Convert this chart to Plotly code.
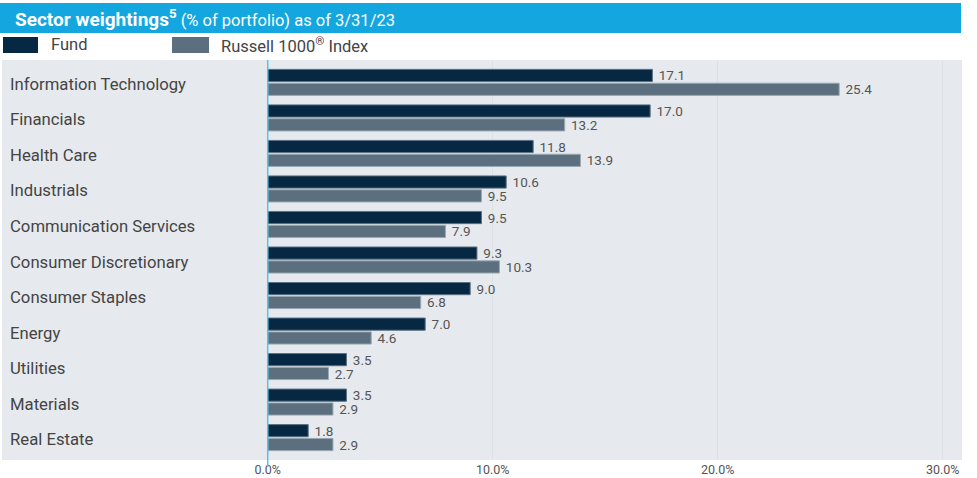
import plotly.graph_objects as go

categories = ["Information Technology", "Financials", "Health Care", "Industrials",
              "Communication Services", "Consumer Discretionary", "Consumer Staples",
              "Energy", "Utilities", "Materials", "Real Estate"]
fund = [17.1, 17.0, 11.8, 10.6, 9.5, 9.3, 9.0, 7.0, 3.5, 3.5, 1.8]
index = [25.4, 13.2, 13.9, 9.5, 7.9, 10.3, 6.8, 4.6, 2.7, 2.9, 2.9]
tick_vals = [0, 10, 20, 30]
tick_text = ["0.0%", "10.0%", "20.0%", "30.0%"]

W, H = 977, 478
L, R, T, B = 2, 15, 60, 18
PW, PH = W - L - R, H - T - B

def px(x):
    return (x - L) / PW

def py(y):
    return (H - B - y) / PH

FUND_C = "#062843"
IDX_C = "#5b6f7e"
TXT = "#555555"

fig = go.Figure()
fig.add_trace(go.Bar(
    y=categories, x=fund, orientation="h", name="Fund",
    marker=dict(color=FUND_C, line=dict(color="#5c7184", width=1)),
    texttemplate=" %{x:.1f}", textposition="outside", cliponaxis=False,
    constraintext="none",
    textfont=dict(size=13.5, color=TXT, family="Roboto"),
))
fig.add_trace(go.Bar(
    y=categories, x=index, orientation="h", name="Russell 1000® Index",
    marker=dict(color=IDX_C, line=dict(color="#9aa8b3", width=1)),
    texttemplate=" %{x:.1f}", textposition="outside", cliponaxis=False,
    constraintext="none",
    textfont=dict(size=13.5, color=TXT, family="Roboto"),
))

shapes = [
    dict(type="rect", xref="paper", yref="paper", x0=px(0), x1=px(961), y0=py(33), y1=py(3),
         fillcolor="#14a6df", line=dict(width=0), layer="above"),
    dict(type="rect", xref="paper", yref="paper", x0=px(3), x1=px(38), y0=py(53), y1=py(37),
         fillcolor=FUND_C, line=dict(width=0)),
    dict(type="rect", xref="paper", yref="paper", x0=px(172), x1=px(209), y0=py(53), y1=py(37),
         fillcolor=IDX_C, line=dict(width=0)),
    dict(type="line", xref="x", yref="paper", x0=0, x1=0, y0=py(467), y1=1,
         line=dict(color="#5cc0ea", width=1.5), layer="above"),
]

annotations = [
    dict(xref="paper", yref="paper", x=px(13), y=py(18), xanchor="left", yanchor="middle",
         text="<span style='font-size:19px'><b>Sector weightings<sup>5</sup></b></span> (% of portfolio) as of 3/31/23",
         showarrow=False, font=dict(size=16.5, color="white", family="Roboto")),
    dict(xref="paper", yref="paper", x=px(49), y=py(45), xanchor="left", yanchor="middle",
         text="Fund", showarrow=False, font=dict(size=16.5, color="#444444", family="Roboto")),
    dict(xref="paper", yref="paper", x=px(219), y=py(45), xanchor="left", yanchor="middle",
         text="Russell 1000<sup>®</sup> Index", showarrow=False,
         font=dict(size=16.5, color="#444444", family="Roboto")),
]
for c in categories:
    annotations.append(dict(xref="paper", yref="y", x=px(8), y=c, xanchor="left", yanchor="middle",
                            text=c, showarrow=False, yshift=-2,
                            font=dict(size=16.7, color="#444444", family="Roboto")))

fig.update_layout(
    width=W, height=H,
    margin=dict(l=L, r=R, t=T, b=B),
    paper_bgcolor="white", plot_bgcolor="#e6eaee",
    barmode="group", bargap=0.22, bargroupgap=0.12,
    showlegend=False,
    shapes=shapes, annotations=annotations,
    xaxis=dict(range=[-11.81, 30.86], tickvals=tick_vals, ticktext=tick_text,
               showgrid=True, gridcolor="#dce1e6", gridwidth=1, zeroline=False,
               tickfont=dict(size=12.5, color=TXT, family="Roboto"), ticks="", ticklen=0,
               fixedrange=True),
    yaxis=dict(categoryorder="array", categoryarray=categories,
               range=[len(categories) - 1 + 0.63, -0.63],
               showticklabels=False, showgrid=False, zeroline=False, fixedrange=True),
    font=dict(family="Roboto"),
)

fig.write_html("out.html", config={"displayModeBar": False},
               post_script="document.body.style.margin='0';document.body.style.padding='0';")
